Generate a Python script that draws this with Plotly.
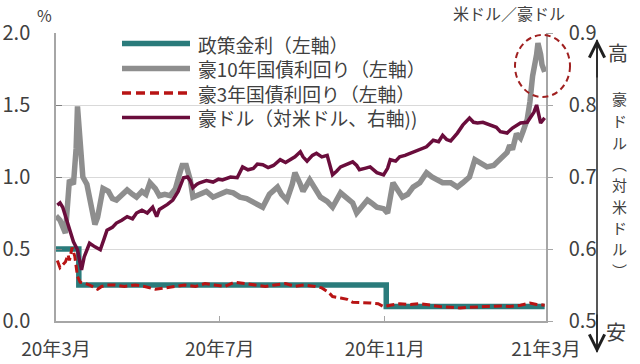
import plotly.graph_objects as go

# ---------------- data ----------------
policy_dates = ["2020-03-01", "2020-03-18", "2020-11-02", "2021-02-28"]
policy_vals = [0.50, 0.25, 0.10, 0.10]

bond10_dates = [
    "2020-03-01", "2020-03-04", "2020-03-08", "2020-03-11", "2020-03-14", "2020-03-16",
    "2020-03-17", "2020-03-19", "2020-03-21", "2020-03-24", "2020-03-27", "2020-03-30",
    "2020-04-01", "2020-04-05", "2020-04-09", "2020-04-12", "2020-04-15", "2020-04-19",
    "2020-04-23", "2020-04-27", "2020-04-30", "2020-05-04", "2020-05-07", "2020-05-10",
    "2020-05-14", "2020-05-17", "2020-05-21", "2020-05-25", "2020-05-29", "2020-06-01",
    "2020-06-03", "2020-06-06", "2020-06-09", "2020-06-11", "2020-06-16", "2020-06-21",
    "2020-06-26", "2020-07-01", "2020-07-06", "2020-07-11", "2020-07-16", "2020-07-21",
    "2020-07-27", "2020-08-02", "2020-08-07", "2020-08-13", "2020-08-16", "2020-08-20",
    "2020-08-24", "2020-08-26", "2020-08-30", "2020-09-01", "2020-09-06", "2020-09-10",
    "2020-09-14", "2020-09-19", "2020-09-23", "2020-09-29", "2020-10-04", "2020-10-08",
    "2020-10-11", "2020-10-15", "2020-10-19", "2020-10-22", "2020-10-26", "2020-10-31",
    "2020-11-03", "2020-11-07", "2020-11-11", "2020-11-14", "2020-11-18", "2020-11-22",
    "2020-11-27", "2020-12-02", "2020-12-06", "2020-12-10", "2020-12-14", "2020-12-20",
    "2020-12-25", "2020-12-29", "2021-01-03", "2021-01-07", "2021-01-11", "2021-01-16",
    "2021-01-21", "2021-01-23", "2021-01-28", "2021-01-31", "2021-02-02", "2021-02-04",
    "2021-02-07", "2021-02-10", "2021-02-12", "2021-02-15", "2021-02-17", "2021-02-19",
    "2021-02-22", "2021-02-23", "2021-02-25", "2021-02-26", "2021-02-28",
]
bond10_vals = [
    0.73, 0.70, 0.61, 0.98, 0.95, 1.20,
    1.49, 1.25, 1.00, 0.95, 0.80, 0.67,
    0.72, 0.92, 0.90, 0.85, 0.84, 0.88,
    0.91, 0.88, 0.86, 0.90, 0.88, 0.96,
    0.92, 0.87, 0.88, 0.87, 0.92, 1.02,
    1.08, 1.08, 0.98, 0.86, 0.88, 0.90,
    0.86, 0.88, 0.90, 0.89, 0.86, 0.85,
    0.82, 0.79, 0.88, 0.93, 0.88, 0.84,
    0.95, 1.03, 0.95, 0.90, 0.98, 0.92,
    0.86, 0.83, 0.79, 0.89, 0.85, 0.82,
    0.75, 0.80, 0.84, 0.82, 0.79, 0.78,
    0.75, 0.96, 0.90, 0.86, 0.88, 0.93,
    0.96, 1.03, 1.00, 0.98, 0.96, 0.96,
    0.93, 0.96, 1.00, 1.12, 1.10, 1.07,
    1.08, 1.10, 1.15, 1.17, 1.22, 1.19,
    1.30, 1.27, 1.32, 1.40, 1.52, 1.70,
    1.85, 1.93, 1.85, 1.78, 1.73,
]

bond3_dates = [
    "2020-03-02", "2020-03-04", "2020-03-06", "2020-03-08", "2020-03-10", "2020-03-11",
    "2020-03-13", "2020-03-15", "2020-03-17", "2020-03-19", "2020-03-23", "2020-03-26",
    "2020-03-30", "2020-04-01", "2020-04-04", "2020-04-08", "2020-04-14", "2020-04-21",
    "2020-04-29", "2020-05-06", "2020-05-14", "2020-05-21", "2020-05-29", "2020-06-05",
    "2020-06-13", "2020-06-20", "2020-06-27", "2020-07-05", "2020-07-12", "2020-07-20",
    "2020-07-27", "2020-08-04", "2020-08-11", "2020-08-19", "2020-08-26", "2020-09-02",
    "2020-09-10", "2020-09-15", "2020-09-20", "2020-09-23", "2020-09-29", "2020-10-04",
    "2020-10-08", "2020-10-13", "2020-10-21", "2020-10-27", "2020-10-31", "2020-11-05",
    "2020-11-12", "2020-11-20", "2020-11-27", "2020-12-05", "2020-12-12", "2020-12-20",
    "2020-12-27", "2021-01-03", "2021-01-11", "2021-01-18", "2021-01-26", "2021-02-02",
    "2021-02-10", "2021-02-17", "2021-02-22", "2021-02-28",
]
bond3_vals = [
    0.42, 0.37, 0.39, 0.41, 0.46, 0.42,
    0.51, 0.45, 0.31, 0.27, 0.26, 0.25,
    0.23, 0.22, 0.24, 0.25, 0.25, 0.24,
    0.25, 0.24, 0.22, 0.23, 0.24, 0.25,
    0.24, 0.26, 0.25, 0.24, 0.27, 0.26,
    0.25, 0.24, 0.25, 0.26, 0.24, 0.25,
    0.24, 0.23, 0.20, 0.17, 0.16, 0.15,
    0.13, 0.13, 0.125, 0.12, 0.10, 0.11,
    0.12, 0.115, 0.12, 0.11, 0.10, 0.095,
    0.09, 0.095, 0.10, 0.10, 0.105, 0.10,
    0.11, 0.125, 0.115, 0.11,
]

aud_dates = [
    "2020-03-02", "2020-03-04", "2020-03-06", "2020-03-09", "2020-03-11", "2020-03-14",
    "2020-03-17", "2020-03-19", "2020-03-20", "2020-03-22", "2020-03-24", "2020-03-26",
    "2020-03-30", "2020-04-03", "2020-04-06", "2020-04-08", "2020-04-12", "2020-04-15",
    "2020-04-19", "2020-04-23", "2020-04-27", "2020-04-30", "2020-05-04", "2020-05-08",
    "2020-05-12", "2020-05-15", "2020-05-17", "2020-05-20", "2020-05-23", "2020-05-27",
    "2020-05-31", "2020-06-04", "2020-06-07", "2020-06-09", "2020-06-11", "2020-06-14",
    "2020-06-16", "2020-06-21", "2020-06-26", "2020-06-30", "2020-07-03", "2020-07-09",
    "2020-07-14", "2020-07-18", "2020-07-22", "2020-07-26", "2020-07-29", "2020-08-02",
    "2020-08-06", "2020-08-10", "2020-08-15", "2020-08-19", "2020-08-22", "2020-08-26",
    "2020-08-30", "2020-09-01", "2020-09-04", "2020-09-08", "2020-09-11", "2020-09-15",
    "2020-09-19", "2020-09-23", "2020-09-26", "2020-09-29", "2020-10-04", "2020-10-08",
    "2020-10-11", "2020-10-13", "2020-10-17", "2020-10-21", "2020-10-26", "2020-10-31",
    "2020-11-03", "2020-11-05", "2020-11-09", "2020-11-12", "2020-11-16", "2020-11-20",
    "2020-11-23", "2020-11-27", "2020-12-02", "2020-12-07", "2020-12-11", "2020-12-14",
    "2020-12-17", "2020-12-20", "2020-12-25", "2020-12-29", "2021-01-03", "2021-01-06",
    "2021-01-09", "2021-01-13", "2021-01-18", "2021-01-23", "2021-01-26", "2021-01-31",
    "2021-02-04", "2021-02-10", "2021-02-15", "2021-02-18", "2021-02-20", "2021-02-22",
    "2021-02-24", "2021-02-25", "2021-02-28",
]
aud_vals = [
    0.661, 0.664, 0.658, 0.640, 0.626, 0.610,
    0.599, 0.580, 0.571, 0.589, 0.600, 0.608,
    0.603, 0.599, 0.615, 0.626, 0.630, 0.636,
    0.640, 0.645, 0.642, 0.650, 0.654, 0.650,
    0.658, 0.645, 0.655, 0.658, 0.662, 0.668,
    0.680, 0.699, 0.700, 0.695, 0.685, 0.690,
    0.692, 0.695, 0.693, 0.697, 0.696, 0.700,
    0.699, 0.714, 0.710, 0.712, 0.718, 0.717,
    0.713, 0.716, 0.724, 0.720, 0.723, 0.728,
    0.735, 0.728, 0.722, 0.730, 0.733, 0.728,
    0.730, 0.703, 0.708, 0.714, 0.718, 0.721,
    0.716, 0.710, 0.712, 0.714, 0.706, 0.703,
    0.712, 0.724, 0.722, 0.728, 0.730, 0.733,
    0.735, 0.738, 0.742, 0.751, 0.749, 0.758,
    0.752, 0.750, 0.761, 0.772, 0.782, 0.776,
    0.775, 0.776, 0.773, 0.769, 0.763, 0.761,
    0.768, 0.775, 0.776, 0.785, 0.790, 0.800,
    0.780, 0.775, 0.782,
]

x_tick_vals = ["2020-03-01", "2020-07-01", "2020-11-01", "2021-03-01"]
x_tick_text = ["20年3月", "20年7月", "20年11月", "21年3月"]

legend_names = ["政策金利（左軸）", "豪10年国債利回り（左軸）", "豪3年国債利回り（左軸）", "豪ドル（対米ドル、右軸))"]
vertical_label = ["豪", "ド", "ル", "︵", "対", "米", "ド", "ル", "︶"]

# ---------------- style ----------------
C_TEAL = "#2a7b7b"
C_GRAY = "#8e8e8e"
C_RED = "#b81414"
C_PURPLE = "#6a0d3c"
C_TEXT = "#404040"
C_AXIS = "#a6a6a6"
FONT = "Noto Sans CJK JP"

W, H = 640, 364
L, R, T, B = 56, 546, 33, 321


def px(x, y):
    return (x - L) / (R - L), (B - y) / (B - T)


fig = go.Figure()
fig.add_trace(go.Scatter(x=policy_dates, y=policy_vals, mode="lines", line_shape="hv",
                         line=dict(color=C_TEAL, width=5.5), showlegend=False))
fig.add_trace(go.Scatter(x=bond10_dates, y=bond10_vals, mode="lines",
                         line=dict(color=C_GRAY, width=5.5), showlegend=False))
fig.add_trace(go.Scatter(x=bond3_dates, y=bond3_vals, mode="lines",
                         line=dict(color=C_RED, width=3, dash="8px,4px"), showlegend=False))
fig.add_trace(go.Scatter(x=aud_dates, y=aud_vals, mode="lines", yaxis="y2",
                         line=dict(color=C_PURPLE, width=3.5), showlegend=False))

shapes = []
annotations = []


def label(x, y, text, size, xanchor="center", yanchor="middle", align="center"):
    px_, py_ = px(x, y)
    annotations.append(dict(xref="paper", yref="paper", x=px_, y=py_, text=text, showarrow=False,
                            xanchor=xanchor, yanchor=yanchor, align=align, borderpad=0,
                            font=dict(family=FONT, size=size, color=C_TEXT)))


# manual legend: sample lines + one multi-line text block
legend_rows = [43.5, 68.5, 93.0, 117.5]
legend_styles = [
    dict(color=C_TEAL, width=5.5),
    dict(color=C_GRAY, width=5.5),
    dict(color=C_RED, width=3.5, dash="9px,5px"),
    dict(color=C_PURPLE, width=3.5),
]
for yrow, st in zip(legend_rows, legend_styles):
    x0, y0 = px(122, yrow)
    x1, _ = px(190, yrow)
    shapes.append(dict(type="line", xref="paper", yref="paper", x0=x0, x1=x1, y0=y0, y1=y0, line=st))
label(197, sum(legend_rows) / 4, "<br>".join(legend_names), 18.8, xanchor="left", align="left")

# dashed circle around spike
cx0, cy0 = px(515, 97)
cx1, cy1 = px(570, 35)
shapes.append(dict(type="circle", xref="paper", yref="paper", x0=cx0, x1=cx1, y0=cy0, y1=cy1,
                   line=dict(color="#a02020", width=2, dash="6px,4px")))

# vertical double arrow line
lx, ly0 = px(597, 40)
_, ly1 = px(597, 352)
shapes.append(dict(type="line", xref="paper", yref="paper", x0=lx, x1=lx, y0=ly0, y1=ly1,
                   line=dict(color="#202020", width=1.5)))

# arrow heads
ax_, ay_top = px(597, 39)
_, ay_bot = px(597, 353)
annotations.append(dict(xref="paper", yref="paper", x=ax_, y=ay_top, text="", showarrow=True,
                        ax=0, ay=40, arrowhead=5, arrowsize=2, arrowwidth=1.5,
                        arrowcolor="#202020", standoff=0, startstandoff=0))
annotations.append(dict(xref="paper", yref="paper", x=ax_, y=ay_bot, text="", showarrow=True,
                        ax=0, ay=-40, arrowhead=5, arrowsize=2, arrowwidth=1.5,
                        arrowcolor="#202020", standoff=0, startstandoff=0))

# unit labels and side labels
label(44, 15, "%", 16)
label(509, 13, "米ドル／豪ドル", 16)
label(618, 52, "高", 20)
label(616, 331, "安", 20)
v_centers = [99, 120.5, 142, 163, 184.5, 206, 227, 248.5, 270]
for ch, yc in zip(vertical_label, v_centers):
    label(619, yc, ch, 15)

fig.update_layout(
    width=W, height=H,
    margin=dict(l=L, r=W - R, t=T, b=H - B, pad=0, autoexpand=False),
    paper_bgcolor="white", plot_bgcolor="white",
    font=dict(family=FONT, color=C_TEXT),
    showlegend=False,
    shapes=shapes,
    annotations=annotations,
    xaxis=dict(
        type="date", range=["2020-03-01", "2021-03-01"],
        tickvals=x_tick_vals, ticktext=x_tick_text,
        ticks="inside", ticklen=5, tickcolor=C_AXIS,
        showline=True, linecolor=C_AXIS, linewidth=1.5,
        showgrid=False, zeroline=False, automargin=False,
        tickfont=dict(family=FONT, size=19, color=C_TEXT),
        ticklabelstandoff=10,
    ),
    yaxis=dict(
        range=[0, 2], dtick=0.5, tick0=0, tickformat=".1f",
        ticks="inside", ticklen=6, tickcolor="#808080",
        showline=True, linecolor=C_AXIS, linewidth=1.5,
        showgrid=True, gridcolor="#d9d9d9", gridwidth=1,
        zeroline=False, automargin=False,
        tickfont=dict(family=FONT, size=20, color=C_TEXT),
        ticklabelstandoff=20,
    ),
    yaxis2=dict(
        range=[0.5, 0.9], dtick=0.1, tick0=0.5, tickformat=".1f",
        overlaying="y", side="right",
        ticks="outside", ticklen=5, tickcolor=C_AXIS,
        showline=True, linecolor=C_AXIS, linewidth=1.5,
        showgrid=False, zeroline=False, automargin=False,
        tickfont=dict(family=FONT, size=20, color=C_TEXT),
        ticklabelstandoff=12,
    ),
)

fig.write_html("out.html", config={"displayModeBar": False},
               post_script="document.body.style.margin='0px';document.body.style.padding='0px';")
